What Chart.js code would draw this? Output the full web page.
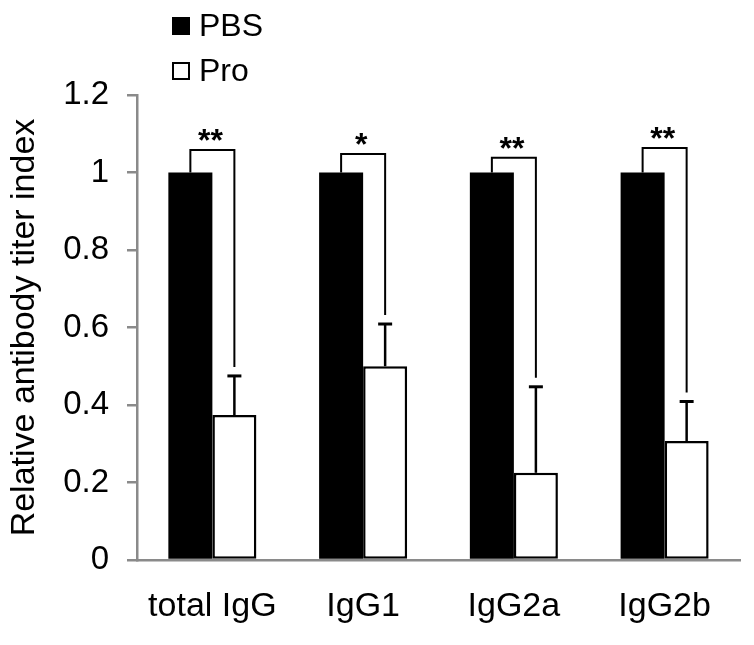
<!DOCTYPE html>
<html>
<head>
<meta charset="utf-8">
<title>Relative antibody titer index</title>
<script src="https://cdn.jsdelivr.net/npm/chart.js@4"></script>
<style>
  html, body { margin: 0; padding: 0; background: #fff; }
  #wrap { width: 754px; height: 645px; position: relative; }
</style>
</head>
<body>
<div id="wrap"><canvas id="titerChart"></canvas></div>
<script>
  // data
  const categories = ['total IgG', 'IgG1', 'IgG2a', 'IgG2b'];
  const pbsValues = [1, 1, 1, 1];
  const proValues = [0.374, 0.5, 0.225, 0.307];
  const proErrors = [0.101, 0.109, 0.222, 0.102];
  const bracketLevels = [1.058, 1.048, 1.038, 1.063];
  const sigMarks = ['**', '*', '**', '**'];
  const yTicks = [0, 0.2, 0.4, 0.6, 0.8, 1, 1.2];

  const FONT = 'Liberation Sans, Arial, sans-serif';

  // error bars (upward only) + significance brackets
  const annotations = {
    id: 'annotations',
    afterDatasetsDraw(chart) {
      const ctx = chart.ctx;
      const y = chart.scales.y;
      const pbsMeta = chart.getDatasetMeta(0);
      const proMeta = chart.getDatasetMeta(1);
      ctx.save();
      ctx.strokeStyle = '#000';
      ctx.fillStyle = '#000';

      proMeta.data.forEach((bar, i) => {
        const top = y.getPixelForValue(proValues[i]);
        const errTop = y.getPixelForValue(proValues[i] + proErrors[i]);
        // stem
        ctx.lineWidth = 2.5;
        ctx.beginPath();
        ctx.moveTo(bar.x, top);
        ctx.lineTo(bar.x, errTop);
        ctx.stroke();
        // cap
        ctx.lineWidth = 3;
        ctx.beginPath();
        ctx.moveTo(bar.x - 7, errTop);
        ctx.lineTo(bar.x + 7, errTop);
        ctx.stroke();

        // bracket
        const xl = pbsMeta.data[i].x;
        const xr = bar.x;
        const yl = y.getPixelForValue(pbsValues[i]);
        const yt = y.getPixelForValue(bracketLevels[i]);
        const yr = errTop - 9;
        ctx.lineWidth = 2;
        ctx.beginPath();
        ctx.moveTo(xl, yl);
        ctx.lineTo(xl, yt);
        ctx.lineTo(xr, yt);
        ctx.lineTo(xr, yr);
        ctx.stroke();

        // stars
        ctx.font = 'bold 32px ' + FONT;
        ctx.textAlign = 'center';
        ctx.textBaseline = 'alphabetic';
        const m = ctx.measureText(sigMarks[i]);
        const cy = yt - 15;
        const base = cy - (m.actualBoundingBoxDescent - m.actualBoundingBoxAscent) / 2;
        ctx.fillText(sigMarks[i], (xl + xr) / 2 - 2, base);
      });
      ctx.restore();
    },
    afterDraw(chart) {
      // legend, stacked vertically at the top left
      const ctx = chart.ctx;
      const x0 = chart.chartArea.left + 35;
      ctx.save();
      ctx.font = '32px ' + FONT;
      ctx.textBaseline = 'middle';
      ctx.textAlign = 'left';
      ctx.fillStyle = '#000';
      ctx.fillRect(x0, 17, 18, 18);
      ctx.fillText(chart.data.datasets[0].label, x0 + 27, 27);
      ctx.lineWidth = 2;
      ctx.strokeStyle = '#000';
      ctx.strokeRect(x0 + 1, 63, 16, 16);
      ctx.fillText(chart.data.datasets[1].label, x0 + 27, 72);
      ctx.restore();
    }
  };

  new Chart(document.getElementById('titerChart'), {
    type: 'bar',
    data: {
      labels: categories,
      datasets: [{
        label: 'PBS',
        data: pbsValues,
        backgroundColor: '#000',
        borderColor: '#000',
        borderWidth: 0,
        categoryPercentage: 0.584,
        barPercentage: 1.0
      }, {
        label: 'Pro',
        data: proValues,
        backgroundColor: '#fff',
        borderColor: '#000',
        borderWidth: 2.5,
        borderSkipped: false,
        categoryPercentage: 0.584,
        barPercentage: 1.0
      }]
    },
    options: {
      responsive: true,
      maintainAspectRatio: false,
      animation: false,
      layout: { padding: { top: 95, right: 14, left: 0, bottom: 0 } },
      plugins: {
        legend: { display: false },
        tooltip: { enabled: false }
      },
      scales: {
        x: {
          grid: { display: false, drawTicks: false },
          border: { color: '#8a8a8a', width: 2.5 },
          ticks: {
            color: '#000',
            padding: 26,
            font: { family: FONT, size: 34 }
          },
          afterFit(scale) { scale.height = 85; }
        },
        y: {
          min: 0,
          max: 1.2,
          afterBuildTicks(scale) {
            scale.ticks = yTicks.map(v => ({ value: v }));
          },
          grid: {
            drawOnChartArea: false,
            drawTicks: true,
            tickLength: 10,
            color: '#8a8a8a',
            lineWidth: 2.5
          },
          border: { color: '#8a8a8a', width: 2.5 },
          ticks: {
            color: '#000',
            padding: 18,
            font: { family: FONT, size: 33 },
            callback: (v) => String(v)
          },
          title: {
            display: true,
            text: 'Relative antibody titer index',
            color: '#000',
            font: { family: FONT, size: 34 },
            padding: { top: 4, bottom: 0 }
          },
          afterFit(scale) { scale.width = 137; }
        }
      }
    },
    plugins: [annotations]
  });
</script>
</body>
</html>
